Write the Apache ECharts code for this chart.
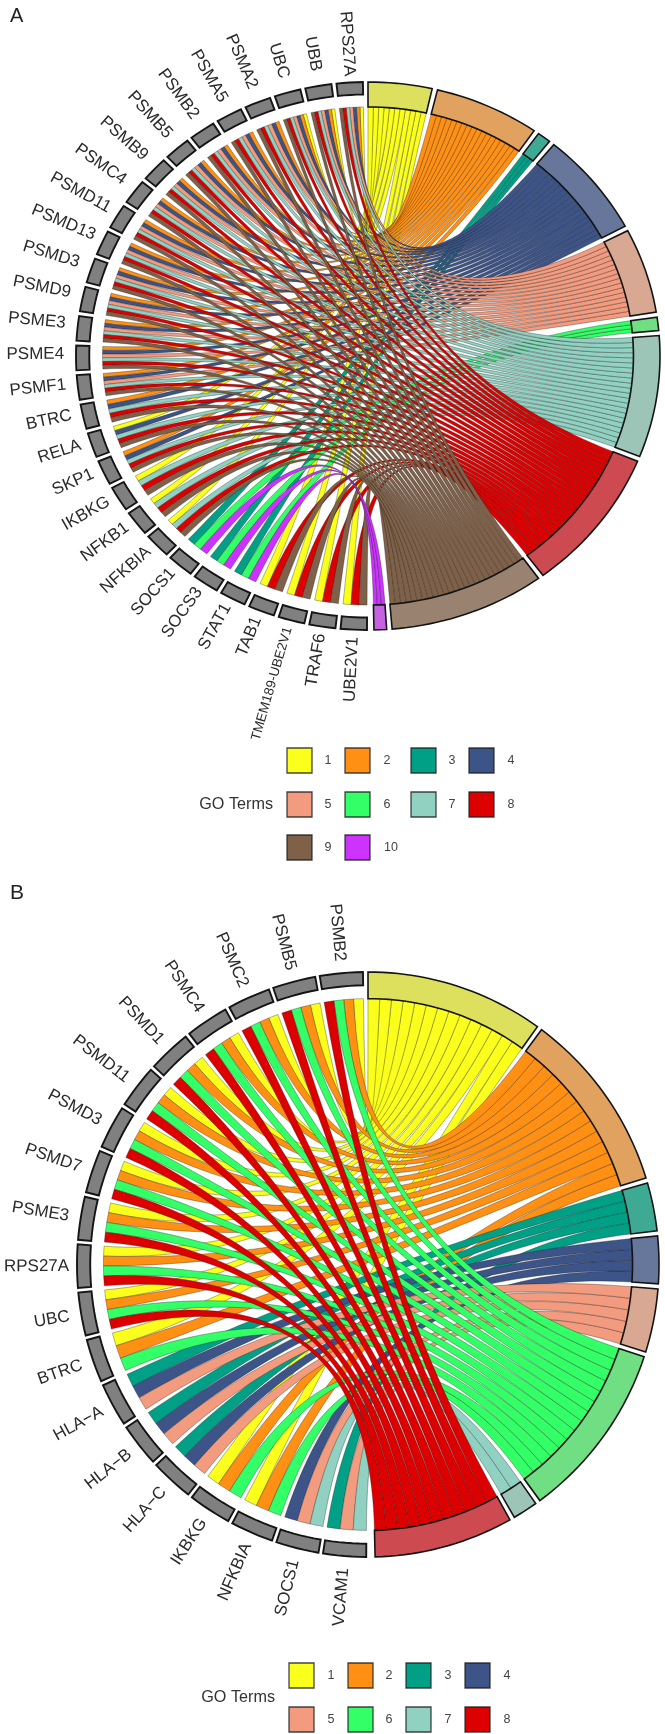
<!DOCTYPE html>
<html>
<head>
<meta charset="utf-8">
<title>GO term chord diagrams</title>
<script src="https://cdn.jsdelivr.net/npm/echarts@6/dist/echarts.min.js"></script>
<style>
  html, body { margin: 0; padding: 0; background: #fff; }
  #chart { width: 665px; height: 1734px; }
</style>
</head>
<body>
<div id="chart"></div>
<script>
// GO term colours, shared by both panels (index 0 is term 1)
const termColors = ['#FBFF1C', '#FF9014', '#00A087', '#3C5488', '#F39B7F', '#33FF66', '#91D1C2', '#DC0000', '#7E6148', '#CC33FF'];
const ringColors = ['#DCE05C', '#E0A25E', '#3FAA94', '#66779B', '#D9A893', '#70DE82', '#9CC4B7', '#CC4A50', '#998270', '#C462E2'];

// Panel A: genes, counter-clockwise from the top
const genesA = ['RPS27A', 'UBB', 'UBC', 'PSMA2', 'PSMA5', 'PSMB2', 'PSMB5', 'PSMB9', 'PSMC4', 'PSMD11', 'PSMD13', 'PSMD3', 'PSMD9', 'PSME3', 'PSME4', 'PSMF1', 'BTRC', 'RELA', 'SKP1', 'IKBKG', 'NFKB1', 'NFKBIA', 'SOCS1', 'SOCS3', 'STAT1', 'TAB1', 'TMEM189-UBE2V1', 'TRAF6', 'UBE2V1'];
const ubiquitinTermsA = [1, 2, 4, 5, 7, 8, 9];
const proteasomeTermsA = [2, 4, 5, 7, 8, 9];
const nfkbTermsA = [1, 7, 8, 9];
const socsTermsA = [3, 6, 10];
const tabTermsA = [1, 8, 9];
const geneTermsA = [
  ubiquitinTermsA, ubiquitinTermsA, ubiquitinTermsA,
  proteasomeTermsA, proteasomeTermsA, proteasomeTermsA, proteasomeTermsA, proteasomeTermsA,
  proteasomeTermsA, proteasomeTermsA, proteasomeTermsA, proteasomeTermsA, proteasomeTermsA,
  proteasomeTermsA, proteasomeTermsA, proteasomeTermsA,
  [2, 4, 7, 8, 9], [1, 4, 7, 8, 9], [2, 4, 7, 8, 9],
  nfkbTermsA, nfkbTermsA, nfkbTermsA,
  socsTermsA, socsTermsA, socsTermsA,
  tabTermsA, tabTermsA, tabTermsA, tabTermsA
];
// Arc length of each term on the ring, in degrees
const termSpansA = [12.7, 20.9, 2.7, 22.2, 18, 2.8, 25.8, 30.6, 31, 2.5];

// Panel B
const genesB = ['PSMB2', 'PSMB5', 'PSMC2', 'PSMC4', 'PSMD1', 'PSMD11', 'PSMD3', 'PSMD7', 'PSME3', 'RPS27A', 'UBC', 'BTRC', 'HLA−A', 'HLA−B', 'HLA−C', 'IKBKG', 'NFKBIA', 'SOCS1', 'VCAM1'];
const coreTermsB = [1, 2, 6, 8];
const signalTermsB = [1, 2, 6];
const hlaTermsB = [3, 4, 5];
const geneTermsB = [
  coreTermsB, coreTermsB, coreTermsB, coreTermsB, coreTermsB, coreTermsB,
  coreTermsB, coreTermsB, coreTermsB, coreTermsB, coreTermsB,
  signalTermsB,
  hlaTermsB, hlaTermsB, hlaTermsB,
  signalTermsB, signalTermsB,
  [4, 5, 7], [3, 5, 7]
];
const termSpansB = [35.6, 36.2, 9.6, 9.4, 12.6, 35.4, 5, 27.8];

const legendLabelsA = ['1', '2', '3', '4', '5', '6', '7', '8', '9', '10'];
const legendLabelsB = ['1', '2', '3', '4', '5', '6', '7', '8'];

// Long labels that sit closer to the ring, pixels inward
const labelNudgeA = { RPS27A: 9, PSMD11: 4, PSMD13: 4 };
const labelNudgeB = { RPS27A: 4 };

const RAD = Math.PI / 180;
const R_RIBBON = 1, R_GENE_IN = 1.05, R_OUT = 1.1;

// Lays out one panel: term arcs clockwise from 0 deg, gene arcs counter-clockwise from 359 deg
function layoutPanel(genes, geneTerms, termSpans, termGap, geneSpan, geneGap) {
  const termArcs = [];
  let at = 0;
  termSpans.forEach(function (span) { termArcs.push([at, at + span]); at += span + termGap; });
  const counts = termSpans.map(function () { return 0; });
  geneTerms.forEach(function (ts) { ts.forEach(function (t) { counts[t - 1]++; }); });
  const used = counts.map(function () { return 0; });
  const geneArcs = [], ribbons = [];
  genes.forEach(function (g, i) {
    const hi = 359 - i * (geneSpan + geneGap), lo = hi - geneSpan;
    geneArcs.push([lo, hi]);
    const ts = geneTerms[i], w = geneSpan / ts.length;
    ts.forEach(function (t, k) {
      const ti = t - 1, sw = termSpans[ti] / counts[ti];
      const a = termArcs[ti][0] + used[ti] * sw;
      used[ti]++;
      ribbons.push({ gene: i, value: [a, a + sw, hi - (k + 1) * w, hi - k * w, ti] });
    });
  });
  // Genes nearest the top are painted last
  ribbons.sort(function (p, q) { return q.gene - p.gene || p.value[4] - q.value[4]; });
  return { termArcs: termArcs, geneArcs: geneArcs, ribbons: ribbons.map(function (r) { return r.value; }) };
}

function polar(deg, r) { return [r * Math.sin(deg * RAD), r * Math.cos(deg * RAD)]; }

function arcPoints(api, from, to, r, out) {
  const steps = Math.max(2, Math.ceil(Math.abs(to - from) / 1.5));
  for (let i = 0; i <= steps; i++) {
    out.push(api.coord(polar(from + (to - from) * i / steps, r)));
  }
}

// Quadratic curve with its control point at the centre of the circle
function curvePoints(api, fromDeg, toDeg, out) {
  const s = polar(fromDeg, R_RIBBON), e = polar(toDeg, R_RIBBON);
  for (let i = 0; i <= 48; i++) {
    const t = i / 48, u = (1 - t) * (1 - t), v = t * t;
    out.push(api.coord([u * s[0] + v * e[0], u * s[1] + v * e[1]]));
  }
}

function renderRibbon(params, api) {
  const a = api.value(0), b = api.value(1), lo = api.value(2), hi = api.value(3), ti = api.value(4);
  const pts = [];
  arcPoints(api, a, b, R_RIBBON, pts);
  curvePoints(api, b, lo, pts);
  arcPoints(api, lo, hi, R_RIBBON, pts);
  curvePoints(api, hi, a, pts);
  return {
    type: 'polygon',
    shape: { points: pts },
    style: { fill: termColors[ti], stroke: 'rgba(20,20,20,0.55)', lineWidth: 0.6 }
  };
}

function renderBand(inner, outer, fillOf, lineWidth) {
  return function (params, api) {
    const a = api.value(0), b = api.value(1);
    const pts = [];
    arcPoints(api, a, b, outer, pts);
    arcPoints(api, b, a, inner, pts);
    return {
      type: 'polygon',
      shape: { points: pts },
      style: { fill: fillOf(params.dataIndex), stroke: '#141414', lineWidth: lineWidth }
    };
  };
}

function renderGeneLabel(genes, shiftY, nudge) {
  return function (params, api) {
    const mid = (api.value(0) + api.value(1)) / 2;
    const p = api.coord(polar(mid, 1.145));
    const c = api.coord([0, 0]);
    const name = genes[params.dataIndex];
    const angle = Math.atan2(c[1] - p[1], c[0] - p[0]);
    const inward = nudge[name] || 0;
    return {
      type: 'text',
      x: p[0] + inward * Math.cos(angle),
      y: p[1] + shiftY + inward * Math.sin(angle),
      rotation: -angle,
      style: {
        text: name,
        fill: '#2a2a2a',
        align: 'right',
        verticalAlign: 'middle',
        font: (name.length > 10 ? 13.4 : 17) + 'px "Liberation Sans", Arial, sans-serif'
      }
    };
  };
}

function panelSeries(index, genes, layout, shiftY, nudge) {
  const base = { type: 'custom', coordinateSystem: 'cartesian2d', xAxisIndex: index, yAxisIndex: index, silent: true, clip: false, animation: false };
  return [
    Object.assign({}, base, { name: 'ribbons', data: layout.ribbons, renderItem: renderRibbon, progressive: 0 }),
    Object.assign({}, base, { name: 'terms', data: layout.termArcs, renderItem: renderBand(R_RIBBON, R_OUT, function (i) { return ringColors[i]; }, 1.6) }),
    Object.assign({}, base, { name: 'genes', data: layout.geneArcs, renderItem: renderBand(R_GENE_IN, R_OUT, function () { return '#808080'; }, 1.9) }),
    Object.assign({}, base, { name: 'gene labels', data: layout.geneArcs, renderItem: renderGeneLabel(genes, shiftY, nudge) })
  ];
}

// Legend drawn as a block of swatches with the "GO Terms" heading on the left
function legendGraphics(labels, xs, textXs, ys, size, titleRight, titleY, overrideX) {
  const out = [{
    type: 'text', x: titleRight, y: titleY,
    style: { text: 'GO Terms', fill: '#333', align: 'right', verticalAlign: 'middle', font: '16.2px "Liberation Sans", Arial, sans-serif' }
  }];
  labels.forEach(function (label, i) {
    const col = i % 4, row = Math.floor(i / 4);
    out.push({
      type: 'rect',
      shape: { x: xs[col], y: ys[row], width: size, height: size },
      style: { fill: termColors[i], stroke: 'rgba(25,25,25,0.8)', lineWidth: 1.3 }
    });
    out.push({
      type: 'text',
      x: overrideX[label] || textXs[col],
      y: ys[row] + size / 2,
      style: { text: label, fill: '#444', align: 'center', verticalAlign: 'middle', font: '12.5px "Liberation Sans", Arial, sans-serif' }
    });
  });
  return out;
}

const layoutA = layoutPanel(genesA, geneTermsA, termSpansA, 1.07, 5.2, 1.0);
const layoutB = layoutPanel(genesB, geneTermsB, termSpansB, 1.0, 8.55, 0.9);

const chart = echarts.init(document.getElementById('chart'), null, { renderer: 'canvas' });
chart.setOption({
  animation: false,
  backgroundColor: '#ffffff',
  title: [
    { text: 'A', left: 5, top: 1, textStyle: { fontFamily: 'Liberation Sans', fontWeight: 'normal', fontSize: 20, color: '#222' } },
    { text: 'B', left: 5, top: 878, textStyle: { fontFamily: 'Liberation Sans', fontWeight: 'normal', fontSize: 21, color: '#222' } }
  ],
  grid: [
    { left: 76, top: 82, width: 584, height: 548 },
    { left: 77, top: 972, width: 582, height: 585 }
  ],
  xAxis: [0, 1].map(function (i) { return { gridIndex: i, type: 'value', min: -1.1, max: 1.1, show: false }; }),
  yAxis: [0, 1].map(function (i) { return { gridIndex: i, type: 'value', min: -1.1, max: 1.1, show: false }; }),
  series: panelSeries(0, genesA, layoutA, -4, labelNudgeA).concat(panelSeries(1, genesB, layoutB, 0, labelNudgeB)),
  graphic: legendGraphics(legendLabelsA, [287, 345, 411, 469], [328, 387, 452, 511], [748, 792, 835], 25, 273, 805, { '10': 391 })
    .concat(legendGraphics(legendLabelsB, [289, 348, 406, 465], [331, 389, 448, 507], [1663, 1707], 25, 275, 1698, {}))
});
</script>
</body>
</html>
